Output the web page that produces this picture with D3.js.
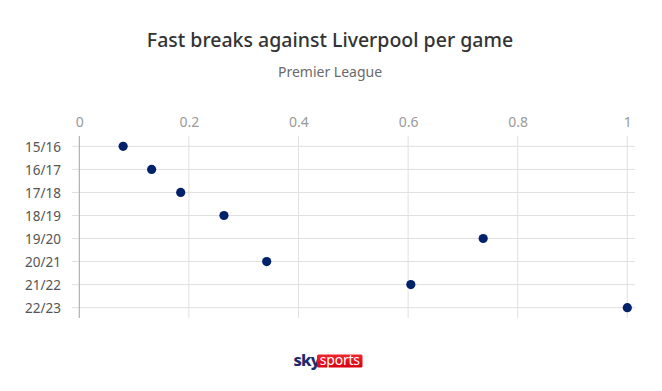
<!DOCTYPE html>
<html>
<head>
<meta charset="utf-8">
<script src="https://cdn.jsdelivr.net/npm/d3@7"></script>
<style>
  html, body { margin: 0; padding: 0; background: #fff; }
  svg { display: block; }
  text { font-family: "Noto Sans", "Open Sans", sans-serif; }
</style>
</head>
<body>
<svg id="chart" width="662" height="391"></svg>
<script>
const seasons = ["15/16", "16/17", "17/18", "18/19", "19/20", "20/21", "21/22", "22/23"];
const fastBreaks = [0.08, 0.132, 0.185, 0.264, 0.737, 0.342, 0.605, 1.0];
const xTicks = [0, 0.2, 0.4, 0.6, 0.8, 1];
const titleText = "Fast breaks against Liverpool per game";
const subtitleText = "Premier League";

const svg = d3.select("#chart");

const x = d3.scaleLinear().domain([0, 1]).range([79.3, 627.3]);
const y = d3.scalePoint().domain(seasons).range([136, 318]).padding(0.45);

// Title
svg.append("text")
  .attr("x", 330).attr("y", 47)
  .attr("text-anchor", "middle")
  .attr("font-size", 19.5)
  .attr("font-weight", 500)
  .attr("fill", "#333")
  .text(titleText);

svg.append("text")
  .attr("x", 330).attr("y", 77)
  .attr("text-anchor", "middle")
  .attr("font-size", 14)
  .attr("fill", "#6a6a6a")
  .text(subtitleText);

// Vertical gridlines
const g = svg.append("g");
g.selectAll("line.vg").data(xTicks).join("line")
  .attr("class", "vg")
  .attr("x1", d => x(d)).attr("x2", d => x(d))
  .attr("y1", 136).attr("y2", 318)
  .attr("stroke", "#e0e0e0")
  .attr("stroke-width", 1);

// Horizontal gridlines
g.selectAll("line.hg").data(seasons).join("line")
  .attr("class", "hg")
  .attr("x1", 72).attr("x2", 635)
  .attr("y1", d => y(d)).attr("y2", d => y(d))
  .attr("stroke", "#e0e0e0")
  .attr("stroke-width", 1);

// zero axis on top
g.append("line")
  .attr("x1", x(0)).attr("x2", x(0))
  .attr("y1", 136).attr("y2", 318)
  .attr("stroke", "#aaa");

// X axis labels (top)
const xAxis = d3.axisTop(x).tickValues(xTicks).tickSize(0).tickFormat(d3.format(""));
const xa = svg.append("g").attr("transform", "translate(0,130)").call(xAxis);
xa.select(".domain").remove();
xa.selectAll("text").attr("font-size", 14).attr("fill", "#9a9a9a").attr("font-family", "Noto Sans, sans-serif");

// Y labels
const yAxis = d3.axisLeft(y).tickSize(0);
const ya = svg.append("g").attr("transform", "translate(25,0)").call(yAxis);
ya.select(".domain").remove();
ya.selectAll("text").attr("font-size", 13.5).attr("fill", "#555")
  .attr("text-anchor", "start").attr("x", 0).attr("dy", "0.35em")
  .attr("font-family", "Noto Sans, sans-serif");

// Dots
svg.append("g").selectAll("circle").data(seasons).join("circle")
  .attr("cx", (d, i) => x(fastBreaks[i]))
  .attr("cy", d => y(d))
  .attr("r", 4.6)
  .attr("fill", "#00226b");

// Logo
const grad = svg.append("defs").append("linearGradient")
  .attr("id", "skyred").attr("x1", 0).attr("y1", 0).attr("x2", 0).attr("y2", 1);
grad.append("stop").attr("offset", "0%").attr("stop-color", "#f0262d");
grad.append("stop").attr("offset", "100%").attr("stop-color", "#d8000f");

const logo = svg.append("g");
logo.append("text")
  .attr("x", 293.5).attr("y", 366)
  .attr("font-size", 16.5).attr("font-weight", 800)
  .attr("fill", "#1d2a6b")
  .attr("letter-spacing", -0.8)
  .text("sky");
logo.append("rect")
  .attr("x", 317).attr("y", 354.5)
  .attr("width", 45.5).attr("height", 13)
  .attr("rx", 1.5)
  .attr("fill", "url(#skyred)");
logo.append("text")
  .attr("x", 339.8).attr("y", 365.3)
  .attr("text-anchor", "middle")
  .attr("font-size", 14)
  .attr("fill", "#fff")
  .attr("letter-spacing", -0.2)
  .text("sports");
</script>
</body>
</html>
